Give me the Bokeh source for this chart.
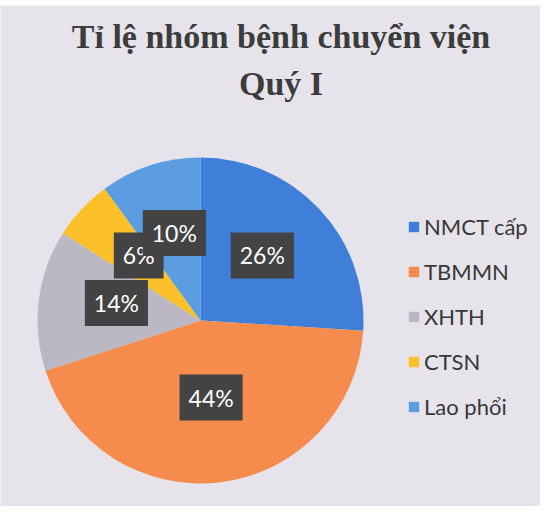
import numpy as np
from bokeh.plotting import figure
from bokeh.models import Range1d, ColumnDataSource, Label, Legend, LegendItem
from bokeh.core.properties import value
from bokeh.embed import file_html
from bokeh.resources import INLINE

# ---- data ----
categories = ["NMCT cấp", "TBMMN", "XHTH", "CTSN", "Lao phổi"]
percents = [26, 44, 14, 6, 10]
colors = ["#3F7FDA", "#F58B4C", "#BBB8C4", "#FBC02A", "#5C9DE2"]
title_lines = ["Tỉ lệ nhóm bệnh chuyển viện", "Quý I"]

W, H = 540, 506
TOP = 5
BG = "#E6E4EA"

p = figure(width=W, height=H, output_backend="svg", toolbar_location=None,
           x_range=Range1d(0, W), y_range=Range1d(0, H - TOP),
           min_border_left=0, min_border_right=0, min_border_bottom=0,
           min_border_top=TOP, tools="")
p.axis.visible = False
p.grid.visible = False
p.outline_line_color = None
p.background_fill_color = BG
p.border_fill_color = "white"

# pie geometry (in px units)
cx, cy, r = 200, 186, 163
frac = np.array(percents, dtype=float) / sum(percents)
cum = np.concatenate([[0], np.cumsum(frac)])
start = np.pi / 2 - cum[:-1] * 2 * np.pi
end = np.pi / 2 - cum[1:] * 2 * np.pi
mid = (start + end) / 2
lr = 0.52 * r
src = ColumnDataSource(dict(
    cat=categories, color=colors, start=start, end=end,
    lx=cx + lr * np.cos(mid), ly=cy + lr * np.sin(mid),
    lab=[f"{v}%" for v in percents],
))

wr = p.wedge(x=cx, y=cy, radius=r, start_angle="start", end_angle="end",
             direction="clock", fill_color="color", line_color=None, source=src)

p.text(x="lx", y="ly", text="lab", source=src, text_color="white",
       text_font=value("Lato"), text_font_size="23px",
       text_align="center", text_baseline="middle", y_offset=-7,
       background_fill_color="#434343", padding=[9, 9, 9, 9])

# title
for i, t in enumerate(title_lines):
    p.add_layout(Label(x=280.5, y=[470, 423][i], text=t, text_align="center",
                       text_baseline="alphabetic",
                       text_font="Liberation Serif", text_font_style="bold",
                       text_font_size="34px", text_color="#3C3C3C"))

legend = Legend(items=[LegendItem(label=c, renderers=[wr], index=i)
                       for i, c in enumerate(categories)],
                location=(407, 86), orientation="vertical")
legend.label_text_font = "Lato"
legend.label_text_font_size = "22px"
legend.label_text_color = "#383838"
legend.label_height = 26
legend.glyph_width = 13
legend.glyph_height = 13
legend.label_standoff = 4
legend.spacing = 18
legend.padding = 0
legend.margin = 0
legend.border_line_color = None
legend.background_fill_alpha = 0
p.add_layout(legend)

open("out.html", "w").write(file_html(p, INLINE))
